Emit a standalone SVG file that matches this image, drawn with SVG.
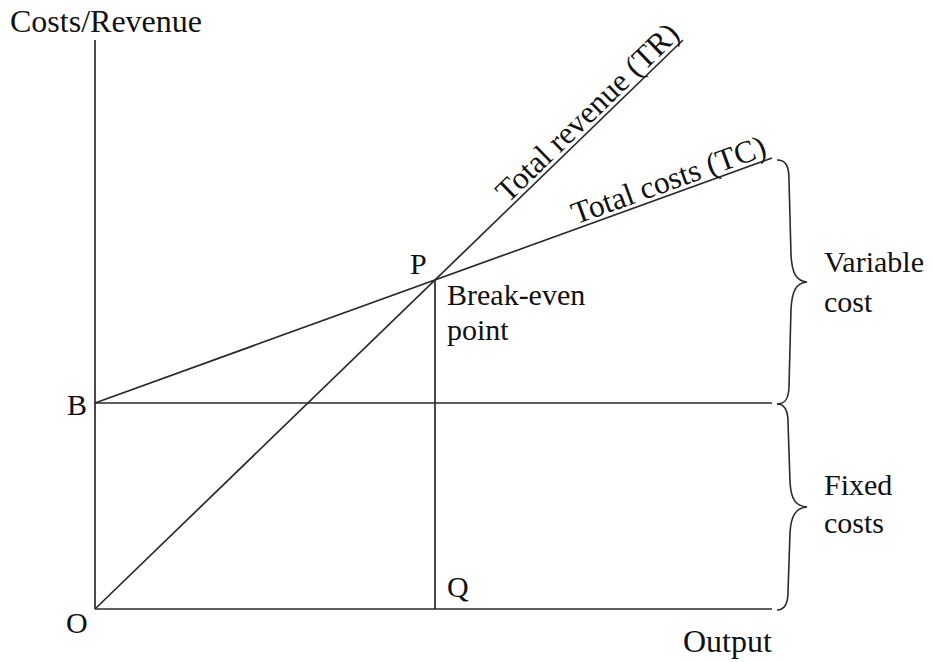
<svg xmlns="http://www.w3.org/2000/svg" width="933" height="662" viewBox="0 0 933 662">
<style>
text{font-family:"Liberation Serif","Times New Roman",serif;fill:#111;font-size:30px}
.ln{stroke:#2a2a2a;stroke-width:1.7;fill:none}
.br{stroke:#2a2a2a;stroke-width:1.6;fill:none}
</style>
<rect width="933" height="662" fill="#fff"/>
<g id="connectors">
<line class="ln" x1="95" y1="40" x2="95" y2="609"/>
<line class="ln" x1="95" y1="609" x2="772" y2="609"/>
<line class="ln" x1="95" y1="403" x2="772" y2="403"/>
<line class="ln" x1="95" y1="403" x2="772" y2="158"/>
<line class="ln" x1="95" y1="609" x2="683" y2="40"/>
<line class="ln" x1="435" y1="280" x2="435" y2="609"/>
</g>
<g id="axis-labels">
<text x="10" y="32" style="font-size:32px">Costs/Revenue</text>
<text x="683" y="652" style="font-size:32px">Output</text>
</g>
<g id="points">
<text x="67" y="415">B</text>
<text x="66" y="633">O</text>
<text x="410" y="274">P</text>
<text x="447" y="597">Q</text>
<text x="447" y="305">Break-even</text>
<text x="447" y="340">point</text>
</g>
<g id="line-labels">
<text transform="translate(681,36) rotate(-44.1)" text-anchor="end" style="font-size:31.5px">Total revenue (TR)</text>
<text transform="translate(768,155) rotate(-19.9)" text-anchor="end" style="font-size:31.5px">Total costs (TC)</text>
</g>
<g id="variable-cost">
<path class="br" d="M777 160 C786 160 789 166 789 180 L791 255 C792 273 796 281 807 282 C796 283 792 291 791 309 L789 386 C789 399 785 404 777 404"/>
<text x="824" y="272">Variable</text>
<text x="824" y="312">cost</text>
</g>
<g id="fixed-costs">
<path class="br" d="M777 404 C785 404 788 410 788 422 L790 482 C791 500 796 506 807 507 C796 508 791 515 790 533 L788 592 C788 604 785 610 777 610"/>
<text x="824" y="495">Fixed</text>
<text x="824" y="533">costs</text>
</g>
</svg>
